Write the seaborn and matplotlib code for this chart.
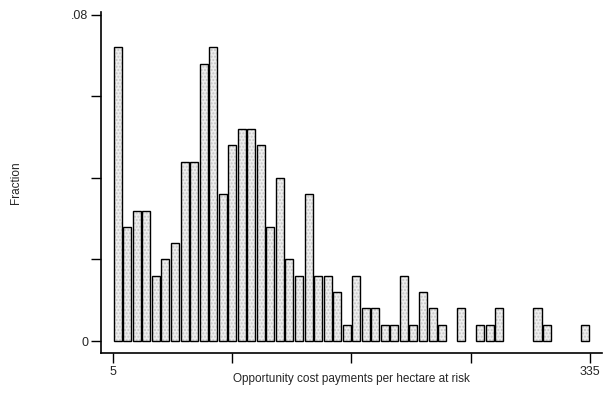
import numpy as np
import pandas as pd
import matplotlib
matplotlib.use("Agg")
import matplotlib.pyplot as plt
import seaborn as sns

# -----------------------------
# Data (50 bins from 5 to 335, counts of 250 obs)
# -----------------------------
bin_start = 5
bin_end = 335
n_bins = 50
counts = [18, 7, 8, 8, 4, 5, 6, 11, 11, 17,
          18, 9, 12, 13, 13, 12, 7, 10, 5, 4,
          9, 4, 4, 3, 1, 4, 2, 2, 1, 1,
          4, 1, 3, 2, 1, 0, 2, 0, 1, 1,
          2, 0, 0, 0, 2, 1, 0, 0, 0, 1]
n_obs = 250
y_ticks = [0, .02, .04, .06, .08]
y_labels = ["0", "", "", "", ".08"]
x_ticks = [5, 87.5, 170, 252.5, 335]
x_labels = ["5", "", "", "", "335"]

binwidth = (bin_end - bin_start) / n_bins
edges = np.linspace(bin_start, bin_end, n_bins + 1)
df = pd.DataFrame({
    "cost": (edges[:-1] + edges[1:]) / 2,
    "fraction": np.array(counts) / n_obs,
})

# style
sns.set_style("ticks")
plt.rcParams["font.family"] = ["Liberation Sans", "DejaVu Sans"]

fig = plt.figure(figsize=(6.05, 3.94), dpi=100)
ax = fig.add_axes([0.1664, 0.104, 0.8281, 0.8655])

sns.histplot(data=df, x="cost", weights="fraction",
             binwidth=binwidth, binrange=(bin_start, bin_end), shrink=0.84,
             color="#eeeeee", edgecolor="black", linewidth=1.0,
             alpha=1, ax=ax)

for p in ax.patches:
    if p.get_height() > 0:
        p.set_hatch(".....")
        p._hatch_color = (0.78, 0.78, 0.78, 1.0)
    else:
        p.set_visible(False)

ax.set_xlim(-3.5, 343.1)
ax.set_ylim(-0.00294, 0.0807)
ax.set_xticks(x_ticks)
ax.set_xticklabels(x_labels)
ax.set_yticks(y_ticks)
ax.set_yticklabels(y_labels)
ax.tick_params(axis="both", direction="out", length=7, width=1,
               color="black", labelsize=9, pad=2)

for s in ["top", "right"]:
    ax.spines[s].set_visible(False)
for s in ["left", "bottom"]:
    ax.spines[s].set_linewidth(1.2)
    ax.spines[s].set_color("black")

ax.set_xlabel("Opportunity cost payments per hectare at risk", fontsize=8.5)
ax.xaxis.set_label_coords(0.5, -0.06)
ax.set_ylabel("Fraction", fontsize=8.5)
ax.yaxis.set_label_coords(-0.157, 0.5)
ax.grid(False)

plt.savefig("out.png", dpi=100)
